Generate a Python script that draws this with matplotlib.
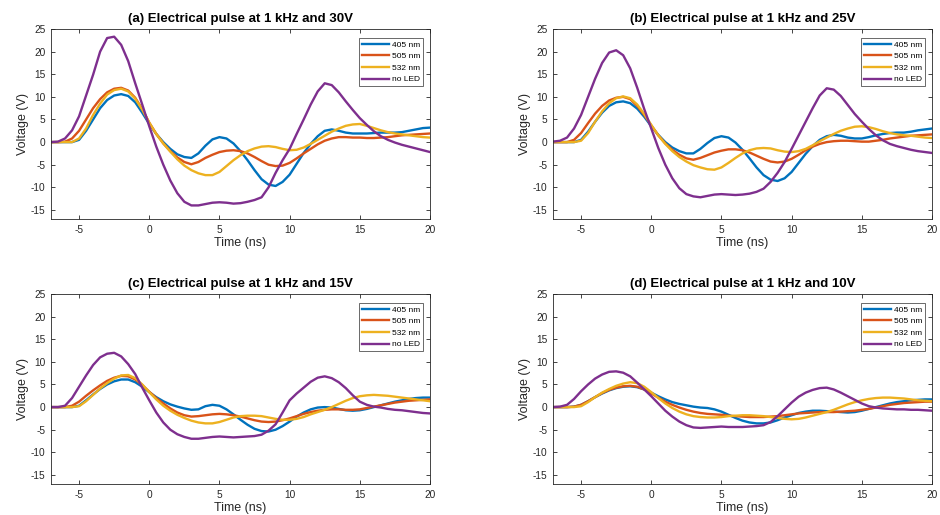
import numpy as np
import matplotlib
matplotlib.use("Agg")
import matplotlib.pyplot as plt

plt.rcParams['font.family'] = ['Liberation Sans', 'DejaVu Sans']
plt.rcParams['axes.unicode_minus'] = False

# time axis (ns), sampled every 0.5 ns
t = np.arange(-7, 20.01, 0.5)

labels = ['405 nm', '505 nm', '532 nm', 'no LED']
colors = ['#0072BD', '#D95319', '#EDB120', '#7E2F8E']
titles = ['(a) Electrical pulse at 1 kHz and 30V',
          '(b) Electrical pulse at 1 kHz and 25V',
          '(c) Electrical pulse at 1 kHz and 15V',
          '(d) Electrical pulse at 1 kHz and 10V']

# (a) 30 V
a_405 = [0, 0, 0, 0, 0.5, 2.5, 5, 7.5, 9.3, 10.3, 10.6, 10.2, 8.8, 6.5, 4, 1.8, 0, -1.5, -2.7, -3.3,
         -3.5, -2.5, -0.8, 0.6, 1.1, 0.8, -0.3, -2, -4, -6.2, -8.2, -9.4, -9.7, -8.8, -7.2, -4.8, -2.4, -0.4, 1.3, 2.5,
         2.8, 2.5, 2.1, 1.9, 1.9, 1.9, 2.0, 2.1, 2.1, 2.1, 2.2, 2.5, 2.8, 3.1, 3.2]
a_505 = [0, 0, 0.1, 0.8, 2.5, 5, 7.5, 9.5, 11, 11.8, 12, 11.4, 9.8, 7.3, 4.3, 1.8, -0.3, -2, -3.4, -4.4,
         -4.9, -4.4, -3.5, -2.8, -2.2, -1.9, -1.8, -2, -2.5, -3.3, -4.2, -5, -5.3, -5.2, -4.6, -3.6, -2.5, -1.5, -0.5, 0.3,
         0.8, 1.1, 1.1, 1.0, 1.0, 0.9, 0.9, 1.0, 1.1, 1.3, 1.5, 1.6, 1.7, 1.8, 1.9]
a_532 = [0, 0, 0, 0, 0.8, 3, 6, 8.5, 10.5, 11.5, 11.8, 11.2, 9.6, 7.2, 4.3, 1.8, -0.3, -2.1, -3.8, -5.2,
         -6.2, -6.9, -7.3, -7.3, -6.6, -5.3, -4, -2.9, -2, -1.4, -1, -0.9, -1.1, -1.5, -1.8, -1.7, -1.2, -0.4, 0.5, 1.4,
         2.3, 3.0, 3.6, 3.9, 4.0, 3.6, 3.1, 2.6, 2.2, 1.9, 1.7, 1.5, 1.3, 1.1, 1.0]
a_noled = [0, 0.1, 0.8, 2.6, 5.7, 10.3, 14.9, 20, 23.0, 23.3, 21.5, 17.9, 13.0, 8.3, 3.5, -1, -5, -8.5, -11.3, -13.2,
           -14, -14, -13.7, -13.4, -13.3, -13.4, -13.6, -13.5, -13.2, -12.8, -12.2, -10, -6.8, -4.0, -1.5, 1.8, 5.0, 8.3, 11.2, 13.0,
           12.6, 11.0, 9.0, 7.1, 5.3, 3.8, 2.4, 1.3, 0.5, -0.1, -0.6, -1.0, -1.4, -1.8, -2.2]

# (b) 25 V
b_405 = [0, 0, 0, 0, 0.5, 2.3, 4.5, 6.5, 8, 8.8, 9, 8.6, 7.4, 5.6, 3.5, 1.6, 0, -1.2, -2, -2.5,
         -2.5, -1.5, -0.2, 0.9, 1.3, 1.0, -0.1, -1.7, -3.6, -5.6, -7.3, -8.3, -8.6, -8, -6.6, -4.6, -2.6, -0.9, 0.5, 1.3,
         1.6, 1.4, 1.0, 0.8, 0.8, 1.1, 1.5, 1.8, 2.0, 2.1, 2.1, 2.3, 2.6, 2.8, 3.0]
b_505 = [0, 0, 0, 0.5, 2, 4.2, 6.3, 8, 9.2, 9.8, 10, 9.5, 8, 6, 3.7, 1.5, -0.3, -1.7, -2.8, -3.6,
         -3.9, -3.5, -2.9, -2.3, -1.9, -1.6, -1.6, -1.8, -2.3, -3, -3.7, -4.3, -4.5, -4.3, -3.7, -2.8, -1.8, -1, -0.4, 0,
         0.2, 0.3, 0.3, 0.2, 0.1, 0.1, 0.3, 0.5, 0.8, 1.0, 1.2, 1.4, 1.5, 1.6, 1.7]
b_532 = [0, 0, 0, 0, 0.3, 2, 4.5, 6.8, 8.6, 9.7, 10.1, 9.7, 8.3, 6.2, 3.8, 1.5, -0.4, -2, -3.3, -4.3,
         -5.1, -5.6, -6, -6.1, -5.6, -4.6, -3.5, -2.5, -1.8, -1.4, -1.3, -1.4, -1.8, -2.1, -2.2, -2, -1.5, -0.7, 0.2, 1.0,
         1.8, 2.5, 3.0, 3.4, 3.5, 3.3, 2.9, 2.4, 2.0, 1.7, 1.5, 1.4, 1.2, 1.0, 0.9]
b_noled = [0.1, 0.3, 1, 3, 6, 10, 14, 17.5, 19.8, 20.3, 19.2, 16.3, 12, 7.3, 3, -1.3, -5, -8, -10.2, -11.5,
           -12, -12.2, -11.9, -11.6, -11.5, -11.6, -11.7, -11.6, -11.4, -11, -10.3, -8.8, -6.8, -4.4, -1.5, 1.5, 4.5, 7.5, 10.3, 11.9,
           11.6, 10.2, 8.2, 6.2, 4.5, 2.9, 1.5, 0.4, -0.4, -0.9, -1.3, -1.7, -2.0, -2.2, -2.4]

# (c) 15 V
c_405 = [0, 0, 0, 0, 0.3, 1.5, 2.8, 4, 5, 5.7, 6.1, 6.1, 5.5, 4.5, 3.3, 2.2, 1.3, 0.6, 0.1, -0.3,
         -0.6, -0.5, 0.2, 0.5, 0.3, -0.5, -1.6, -2.8, -3.9, -4.8, -5.3, -5.4, -5.0, -4.2, -3.2, -2.1, -1.2, -0.5, -0.1, 0,
         -0.1, -0.4, -0.7, -0.8, -0.7, -0.4, 0, 0.4, 0.8, 1.2, 1.5, 1.8, 2.0, 2.1, 2.1]
c_505 = [0, 0, 0, 0.3, 1.2, 2.5, 3.7, 4.8, 5.8, 6.5, 6.9, 6.8, 6.1, 4.9, 3.4, 2, 0.8, -0.3, -1.2, -1.8,
         -2.1, -2.0, -1.8, -1.6, -1.5, -1.6, -1.8, -2.1, -2.5, -2.9, -3.2, -3.3, -3.2, -2.9, -2.5, -2, -1.5, -1.1, -0.8, -0.6,
         -0.5, -0.5, -0.6, -0.6, -0.5, -0.2, 0.1, 0.4, 0.7, 1.0, 1.2, 1.4, 1.5, 1.6, 1.7]
c_532 = [0, 0, 0, 0, 0.2, 1.3, 2.7, 4.1, 5.3, 6.3, 7.0, 7.1, 6.4, 5.0, 3.3, 1.7, 0.3, -0.8, -1.7, -2.4,
         -3.0, -3.4, -3.6, -3.6, -3.3, -2.8, -2.3, -2.0, -1.9, -1.9, -2.0, -2.3, -2.6, -2.8, -2.8, -2.6, -2.2, -1.6, -1.1, -0.6,
         0, 0.7, 1.4, 2.0, 2.4, 2.6, 2.7, 2.6, 2.5, 2.3, 2.1, 1.9, 1.7, 1.5, 1.3]
c_noled = [0, 0, 0.3, 2, 4.5, 7, 9.3, 11, 11.8, 12, 11.2, 9.5, 7.3, 4.3, 1.5, -1.2, -3.4, -5, -6, -6.6,
           -7, -7, -6.8, -6.6, -6.5, -6.6, -6.7, -6.6, -6.5, -6.4, -6.1, -5.2, -3.8, -1.2, 1.5, 3.0, 4.3, 5.6, 6.5, 6.8,
           6.4, 5.5, 4.2, 2.6, 1.2, 0.5, 0.1, -0.1, -0.4, -0.6, -0.7, -0.9, -1.1, -1.3, -1.4]

# (d) 10 V
d_405 = [0, 0, 0, 0.1, 0.5, 1.3, 2.2, 3, 3.7, 4.2, 4.5, 4.6, 4.4, 3.9, 3.2, 2.4, 1.7, 1.1, 0.7, 0.4,
         0.1, -0.1, -0.2, -0.5, -1.0, -1.7, -2.4, -3.0, -3.4, -3.6, -3.6, -3.4, -2.9, -2.3, -1.8, -1.3, -1.0, -0.8, -0.8, -0.9,
         -1.0, -1.1, -1.2, -1.1, -0.8, -0.4, 0, 0.4, 0.8, 1.1, 1.3, 1.5, 1.6, 1.7, 1.7]
d_505 = [0, 0, 0, 0.1, 0.5, 1.3, 2.2, 3.1, 3.8, 4.3, 4.6, 4.7, 4.5, 3.9, 3.0, 2.1, 1.2, 0.5, -0.1, -0.6,
         -1.0, -1.3, -1.5, -1.6, -1.7, -1.9, -2.0, -2.1, -2.2, -2.2, -2.2, -2.1, -2.0, -1.8, -1.6, -1.4, -1.3, -1.2, -1.1, -1.1,
         -1.1, -1.0, -0.9, -0.8, -0.6, -0.4, -0.1, 0.2, 0.5, 0.7, 0.9, 1.0, 1.1, 1.2, 1.2]
d_532 = [0, 0, 0, 0, 0.2, 1.1, 2.2, 3.2, 4.0, 4.7, 5.2, 5.5, 5.3, 4.5, 3.3, 2.0, 0.8, -0.2, -1.0, -1.6,
         -2.0, -2.2, -2.3, -2.3, -2.2, -2.0, -1.9, -1.8, -1.8, -1.9, -2.0, -2.2, -2.4, -2.6, -2.7, -2.6, -2.3, -1.9, -1.5, -1.1,
         -0.6, 0, 0.6, 1.1, 1.5, 1.8, 2.0, 2.1, 2.1, 2.0, 1.9, 1.7, 1.5, 1.4, 1.3]
d_noled = [0, 0.1, 0.5, 1.8, 3.5, 5, 6.3, 7.2, 7.8, 7.9, 7.6, 6.8, 5.4, 3.9, 2.4, 0.8, -0.8, -2.1, -3.2, -4.0,
           -4.5, -4.6, -4.5, -4.4, -4.3, -4.4, -4.4, -4.4, -4.3, -4.2, -4.0, -3.3, -2.0, -0.5, 1.0, 2.3, 3.2, 3.8, 4.2, 4.3,
           3.9, 3.2, 2.4, 1.6, 0.8, 0.2, -0.1, -0.3, -0.4, -0.5, -0.5, -0.6, -0.6, -0.7, -0.8]

panels = [[a_405, a_505, a_532, a_noled],
          [b_405, b_505, b_532, b_noled],
          [c_405, c_505, c_532, c_noled],
          [d_405, d_505, d_532, d_noled]]

W, H = 940, 515
boxes = [(51, 29), (553, 29), (51, 294), (553, 294)]  # left, top in pixels
aw, ah = 379, 190

fig = plt.figure(figsize=(W / 100, H / 100), dpi=100)
axc = '#262626'

for i, series in enumerate(panels):
    x0, y0 = boxes[i]
    ax = fig.add_axes([x0 / W, 1 - (y0 + ah) / H, aw / W, ah / H])
    for ys, lab, col in zip(series, labels, colors):
        ax.plot(t, ys, color=col, lw=1.7, label=lab)
    ax.set_xlim(-7, 20)
    ax.set_ylim(-17, 25)
    ax.set_xticks([-5, 0, 5, 10, 15, 20])
    ax.set_yticks([-15, -10, -5, 0, 5, 10, 15, 20, 25])
    ax.tick_params(direction='in', length=3, width=0.6, labelsize=7.3, colors=axc,
                   top=True, right=True, pad=4)
    for sp in ax.spines.values():
        sp.set_color(axc)
        sp.set_linewidth(0.6)
    ax.set_xlabel('Time (ns)', fontsize=9, color=axc, labelpad=2)
    ax.set_ylabel('Voltage (V)', fontsize=9, color=axc, labelpad=1)
    ax.set_title(titles[i], fontsize=9.5, fontweight='bold', pad=5)
    leg = ax.legend(loc='upper right', bbox_to_anchor=(1 - 7 / aw, 1 - 9 / ah),
                    borderaxespad=0, fontsize=6, frameon=True, fancybox=False,
                    handlelength=3.3, handletextpad=0.3, labelspacing=0.45,
                    borderpad=0.35)
    leg.get_frame().set_edgecolor(axc)
    leg.get_frame().set_linewidth(0.6)

fig.savefig('out.png', dpi=100)
